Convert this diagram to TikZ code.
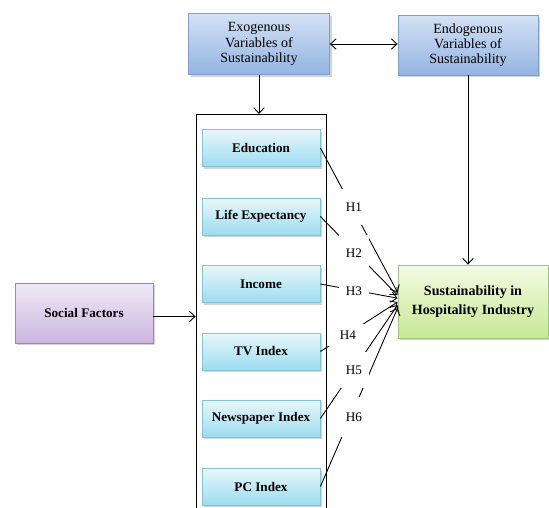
\documentclass[tikz,border=0pt]{standalone}
\usepackage{fontspec}
\setmainfont{Liberation Serif}
\usetikzlibrary{positioning,shadows,arrows.meta}
\tikzset{>={Straight Barb[length=3.2pt,width=6pt]}}

\definecolor{blueedge}{HTML}{7F9FCC}
\definecolor{bluetop}{HTML}{D3E1F4}
\definecolor{bluebot}{HTML}{94B4E2}
\definecolor{cyanedge}{HTML}{86C3D8}
\definecolor{cyantop}{HTML}{E8F7FC}
\definecolor{cyanbot}{HTML}{9CDCF0}
\definecolor{purpedge}{HTML}{9C8AB4}
\definecolor{purptop}{HTML}{F0EAF6}
\definecolor{purpbot}{HTML}{CBB5E0}
\definecolor{greenedge}{HTML}{A3C47A}
\definecolor{greentop}{HTML}{F4FBE4}
\definecolor{greenbot}{HTML}{C6E894}

\begin{document}
\begin{tikzpicture}[x=0.02cm,y=-0.02cm,line width=0.5pt,
  shade/.style={drop shadow={opacity=0.35,shadow xshift=1.2pt,shadow yshift=-1.2pt}},
  varbox/.style={draw=blueedge,top color=bluetop,bottom color=bluebot,shade,
    minimum width=2.82cm,minimum height=1.22cm,align=center,
    font=\fontsize{8}{8.6}\selectfont},
  factor/.style={draw=cyanedge,top color=cyantop,bottom color=cyanbot,shade,
    minimum width=2.36cm,minimum height=0.74cm,
    font=\fontsize{7.5}{9}\selectfont\bfseries},
  hyp/.style={fill=white,inner sep=0pt,minimum width=0.6cm,minimum height=0.72cm,
    font=\fontsize{7.5}{9}\selectfont}]
  \useasboundingbox (0,0) rectangle (549,508);

  % top variables
  \node[varbox] (exo) at (259,44) {Exogenous\\Variables of\\Sustainability};
  \node[varbox,minimum width=2.8cm,minimum height=1.2cm] (endo) at (468,45)
    {Endogenous\\Variables of\\Sustainability};
  \draw[<->] (exo.east) -- (exo.east -| endo.west);

  % frame holding the social indicators
  \node[draw,minimum width=2.6cm,minimum height=8.2cm,anchor=north] (frame) at (261,114) {};
  \node[factor] (edu)   at (261,148)   {Education};
  \node[factor] (life)  at (261,216.5) {Life Expectancy};
  \node[factor] (inc)   at (261,284)   {Income};
  \node[factor] (tv)    at (261,351.5) {TV Index};
  \node[factor] (news)  at (261,418.5) {Newspaper Index};
  \node[factor] (pc)    at (261,486.5) {PC Index};
  \draw[->] (exo.south) -- (exo.south |- frame.north);

  % social factors and outcome
  \node[draw=purpedge,top color=purptop,bottom color=purpbot,shade,
        minimum width=2.76cm,minimum height=1.2cm,
        font=\fontsize{7.5}{9}\selectfont\bfseries] (social) at (84,313) {Social Factors};
  \draw[->] ([yshift=-2pt]social.east) -- ([yshift=-2pt]social.east -| frame.west);

  \node[draw=greenedge,top color=greentop,bottom color=greenbot,shade,
        minimum width=3cm,minimum height=1.46cm,align=center,
        font=\fontsize{8}{11}\selectfont\bfseries] (green) at (473,301.5)
        {Sustainability in\\Hospitality Industry};
  \draw[->] (endo.south) -- (endo.south |- green.north);

  % hypotheses
  \draw[->] (edu.east)  -- ([yshift=5.2pt]green.west);
  \draw[->] (life.east) -- ([yshift=3.6pt]green.west);
  \draw[->] (inc.east)  -- ([yshift=1.9pt]green.west);
  \draw[->] (tv.east)   -- ([yshift=-0.3pt]green.west);
  \draw[->] (news.east) -- ([yshift=-2pt]green.west);
  \draw[->] (pc.east)   -- ([yshift=-3.8pt]green.west);
  \node[hyp] (h1) at (354,207) {H1};
  \node[hyp] (h2) at (354,253) {H2};
  \node[hyp,minimum height=0.4cm] (h3) at (354,291) {H3};
  \node[hyp,minimum width=0.8cm,minimum height=0.45cm] (h4) at (348,335) {H4};
  \node[hyp] (h5) at (354,370) {H5};
  \node[hyp,minimum height=0.8cm] (h6) at (354,417) {H6};
\end{tikzpicture}
\end{document}
